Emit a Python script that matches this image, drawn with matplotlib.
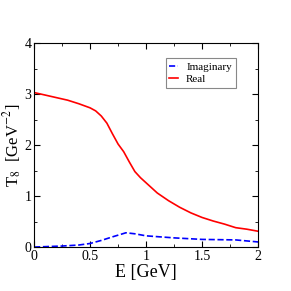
import matplotlib
matplotlib.use('Agg')
import matplotlib.pyplot as plt

E_real = [0.0, 0.1, 0.2, 0.3, 0.4, 0.5, 0.55, 0.6, 0.65, 0.7, 0.75, 0.8, 0.85,
          0.9, 0.95, 1.0, 1.1, 1.2, 1.3, 1.4, 1.5, 1.6, 1.7, 1.8, 1.9, 2.0]
T_real = [3.03, 2.98, 2.93, 2.88, 2.81, 2.73, 2.67, 2.57, 2.43, 2.22, 2.02, 1.87, 1.67,
          1.48, 1.36, 1.26, 1.06, 0.91, 0.78, 0.67, 0.58, 0.51, 0.45, 0.38, 0.35, 0.31]

E_imag = [0.0, 0.25, 0.4, 0.5, 0.6, 0.7, 0.82, 0.9, 1.0, 1.25, 1.5, 1.8, 2.0]
T_imag = [0.0, 0.02, 0.04, 0.07, 0.13, 0.2, 0.28, 0.26, 0.22, 0.18, 0.15, 0.14, 0.1]

plt.rcParams['font.family'] = ['Liberation Serif', 'DejaVu Serif']
plt.rcParams['mathtext.fontset'] = 'stix'

fig = plt.figure(figsize=(2.91, 2.91), dpi=100)
ax = fig.add_axes([0.117, 0.151, 0.770, 0.701])

ax.plot(E_imag, T_imag, color='#0000ff', ls='--', lw=1.2, label='Imaginary')
ax.plot(E_real, T_real, color='#ff0000', lw=1.2, label='Real')

ax.set_xlim(0, 2)
ax.set_ylim(0, 4)
ax.set_xticks([0, 0.5, 1, 1.5, 2])
ax.set_xticklabels(['0', '0.5', '1', '1.5', '2'])
ax.set_xticks([0.25, 0.75, 1.25, 1.75], minor=True)
ax.set_yticks([0, 1, 2, 3, 4])
ax.set_yticks([0.5, 1.5, 2.5, 3.5], minor=True)
ax.tick_params(which='both', direction='in', top=True, right=True, labelsize=10, pad=2)
ax.tick_params(which='major', length=4)
ax.tick_params(which='minor', length=2)
for s in ax.spines.values():
    s.set_linewidth(0.8)

ax.set_xlabel('E [GeV]', fontsize=13, labelpad=1)
ax.set_ylabel(r'T$_8$  [GeV$^{-2}$]', fontsize=12)
ax.yaxis.set_label_coords(-0.045, 0.5)

leg = ax.legend(loc='upper right', bbox_to_anchor=(0.90, 0.926), borderaxespad=0,
                fontsize=8, handlelength=0.8, fancybox=False, framealpha=1,
                edgecolor='#888888', borderpad=0.35, labelspacing=0.2, handletextpad=0.7)
leg.get_frame().set_linewidth(0.8)

fig.savefig('out.png', dpi=100)
